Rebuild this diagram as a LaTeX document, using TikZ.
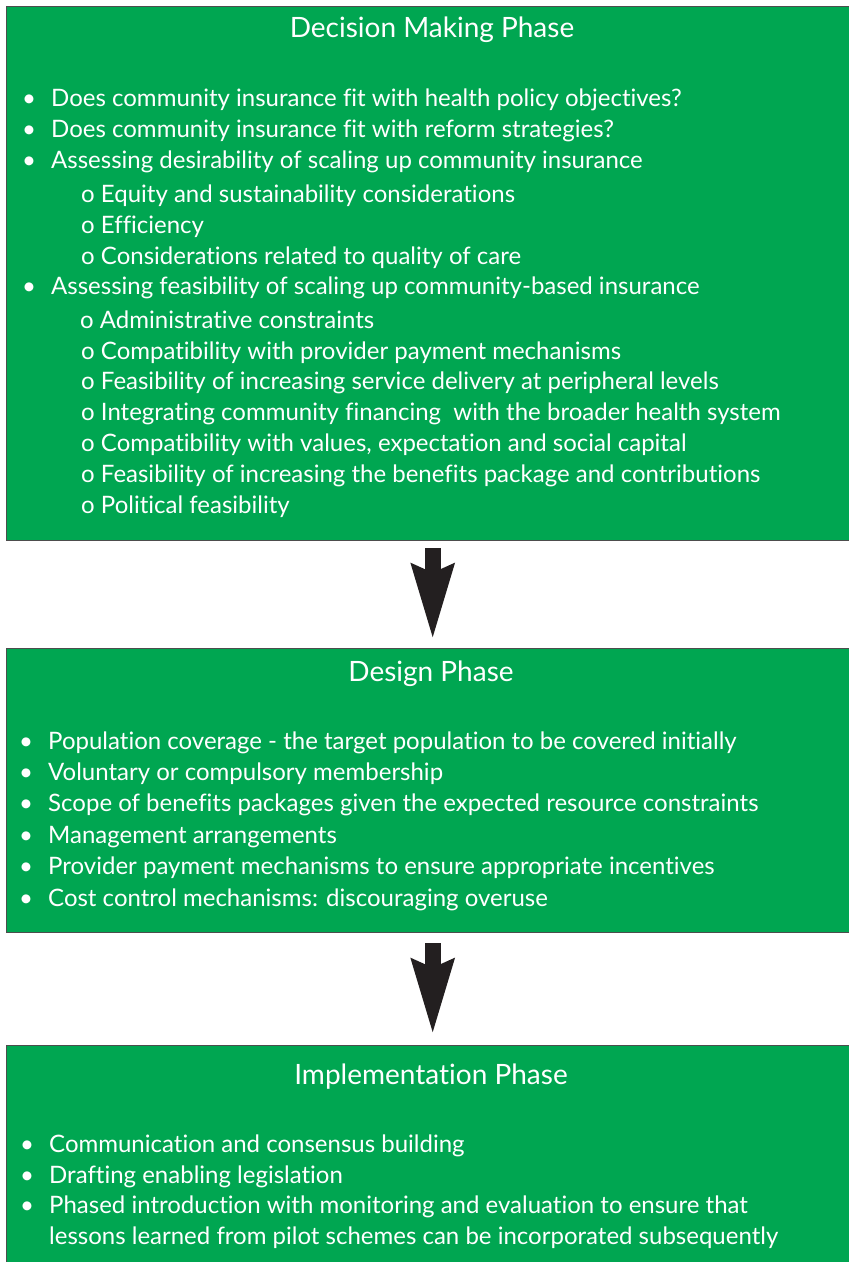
\documentclass[tikz,border=0pt]{standalone}
\usepackage{fontspec}
\setmainfont{Lato}[RawFeature={-liga}]
\usetikzlibrary{arrows.meta}
\definecolor{boxgreen}{HTML}{00A651}
\definecolor{boxedge}{HTML}{4D4D4D}
\definecolor{arrowblack}{HTML}{231F20}
\tikzset{
  box/.style={draw=boxedge, line width=1.4pt, fill=boxgreen, inner sep=0pt, anchor=north west},
  ttl/.style={text=white, font=\fontsize{28}{32}\selectfont, inner sep=0pt, anchor=base},
  txt/.style={text=white, font=\fontsize{24}{28}\selectfont, inner sep=0pt, anchor=base west},
  bul/.style={text=white, font=\fontsize{24}{28}\selectfont, inner sep=0pt, anchor=base},
  arr/.style={draw=arrowblack, line width=16pt, -{Stealth[length=74pt, width=40pt, inset=7pt, fill=arrowblack]}},
}
\begin{document}
\begin{tikzpicture}[x=1pt, y=-1pt]
\useasboundingbox (0,0) rectangle (849,1262);
% boxes
\node[box, minimum width=852pt, minimum height=534.5pt] (b1) at (6,5.5) {};
\node[box, minimum width=852pt, minimum height=284pt] (b2) at (6,648) {};
\node[box, minimum width=852pt, minimum height=240pt] (b3) at (6,1045) {};
% arrows
\draw[arr] ([yshift=-7pt]b1.south) -- ([yshift=8pt]b2.north);
\draw[arr] ([yshift=-10pt]b2.south) -- ([yshift=10pt]b3.north);
% box 1
\node[ttl] (h1) at (432,37) {Decision Making Phase};
\node[bul] (d1b) at (29,106) {•};
\node[txt] (d1) at (51,106) {Does community insurance fit with health policy objectives?};
\node[bul] (d2b) at (29,137) {•};
\node[txt] (d2) at (51,137) {Does community insurance fit with reform strategies?};
\node[bul] (d3b) at (29,168) {•};
\node[txt] (d3) at (51,168) {Assessing desirability of scaling up community insurance};
\node[txt] (d4) at (81,202) {o Equity and sustainability considerations};
\node[txt] (d5) at (81,233) {o Efficiency};
\node[txt] (d6) at (81,264) {o Considerations related to quality of care};
\node[bul] (d7b) at (29,294) {•};
\node[txt] (d7) at (51,294) {Assessing feasibility of scaling up community-based insurance};
\node[txt] (d8) at (80,328) {o Administrative constraints};
\node[txt] (d9) at (81,359) {o Compatibility with provider payment mechanisms};
\node[txt] (d10) at (81,389) {o Feasibility of increasing service delivery at peripheral levels};
\node[txt] (d11) at (81,420) {o Integrating community financing\ \ with the broader health system};
\node[txt] (d12) at (81,451) {o Compatibility with values, expectation and social capital};
\node[txt] (d13) at (81,482) {o Feasibility of increasing the benefits package and contributions};
\node[txt] (d14) at (81,513) {o Political feasibility};
% box 2
\node[ttl] (h2) at (431,681) {Design Phase};
\node[bul] (e1b) at (26,749) {•};
\node[txt] (e1) at (48,749) {Population coverage - the target population to be covered initially};
\node[bul] (e2b) at (26,780) {•};
\node[txt] (e2) at (48,780) {Voluntary or compulsory membership};
\node[bul] (e3b) at (26,811) {•};
\node[txt] (e3) at (48,811) {Scope of benefits packages given the expected resource constraints};
\node[bul] (e4b) at (26,843) {•};
\node[txt] (e4) at (48,843) {Management arrangements};
\node[bul] (e5b) at (26,874) {•};
\node[txt] (e5) at (48,874) {Provider payment mechanisms to ensure appropriate incentives};
\node[bul] (e6b) at (26,906) {•};
\node[txt] (e6) at (48,906) {Cost control mechanisms: discouraging overuse};
% box 3
\node[ttl] (h3) at (431,1084) {Implementation Phase};
\node[bul] (f1b) at (27,1152) {•};
\node[txt] (f1) at (49,1152) {Communication and consensus building};
\node[bul] (f2b) at (27,1183) {•};
\node[txt] (f2) at (49,1183) {Drafting enabling legislation};
\node[bul] (f3b) at (27,1213) {•};
\node[txt] (f3) at (49,1213) {Phased introduction with monitoring and evaluation to ensure that};
\node[txt] (f4) at (49,1244) {lessons learned from pilot schemes can be incorporated subsequently};
\end{tikzpicture}
\end{document}
